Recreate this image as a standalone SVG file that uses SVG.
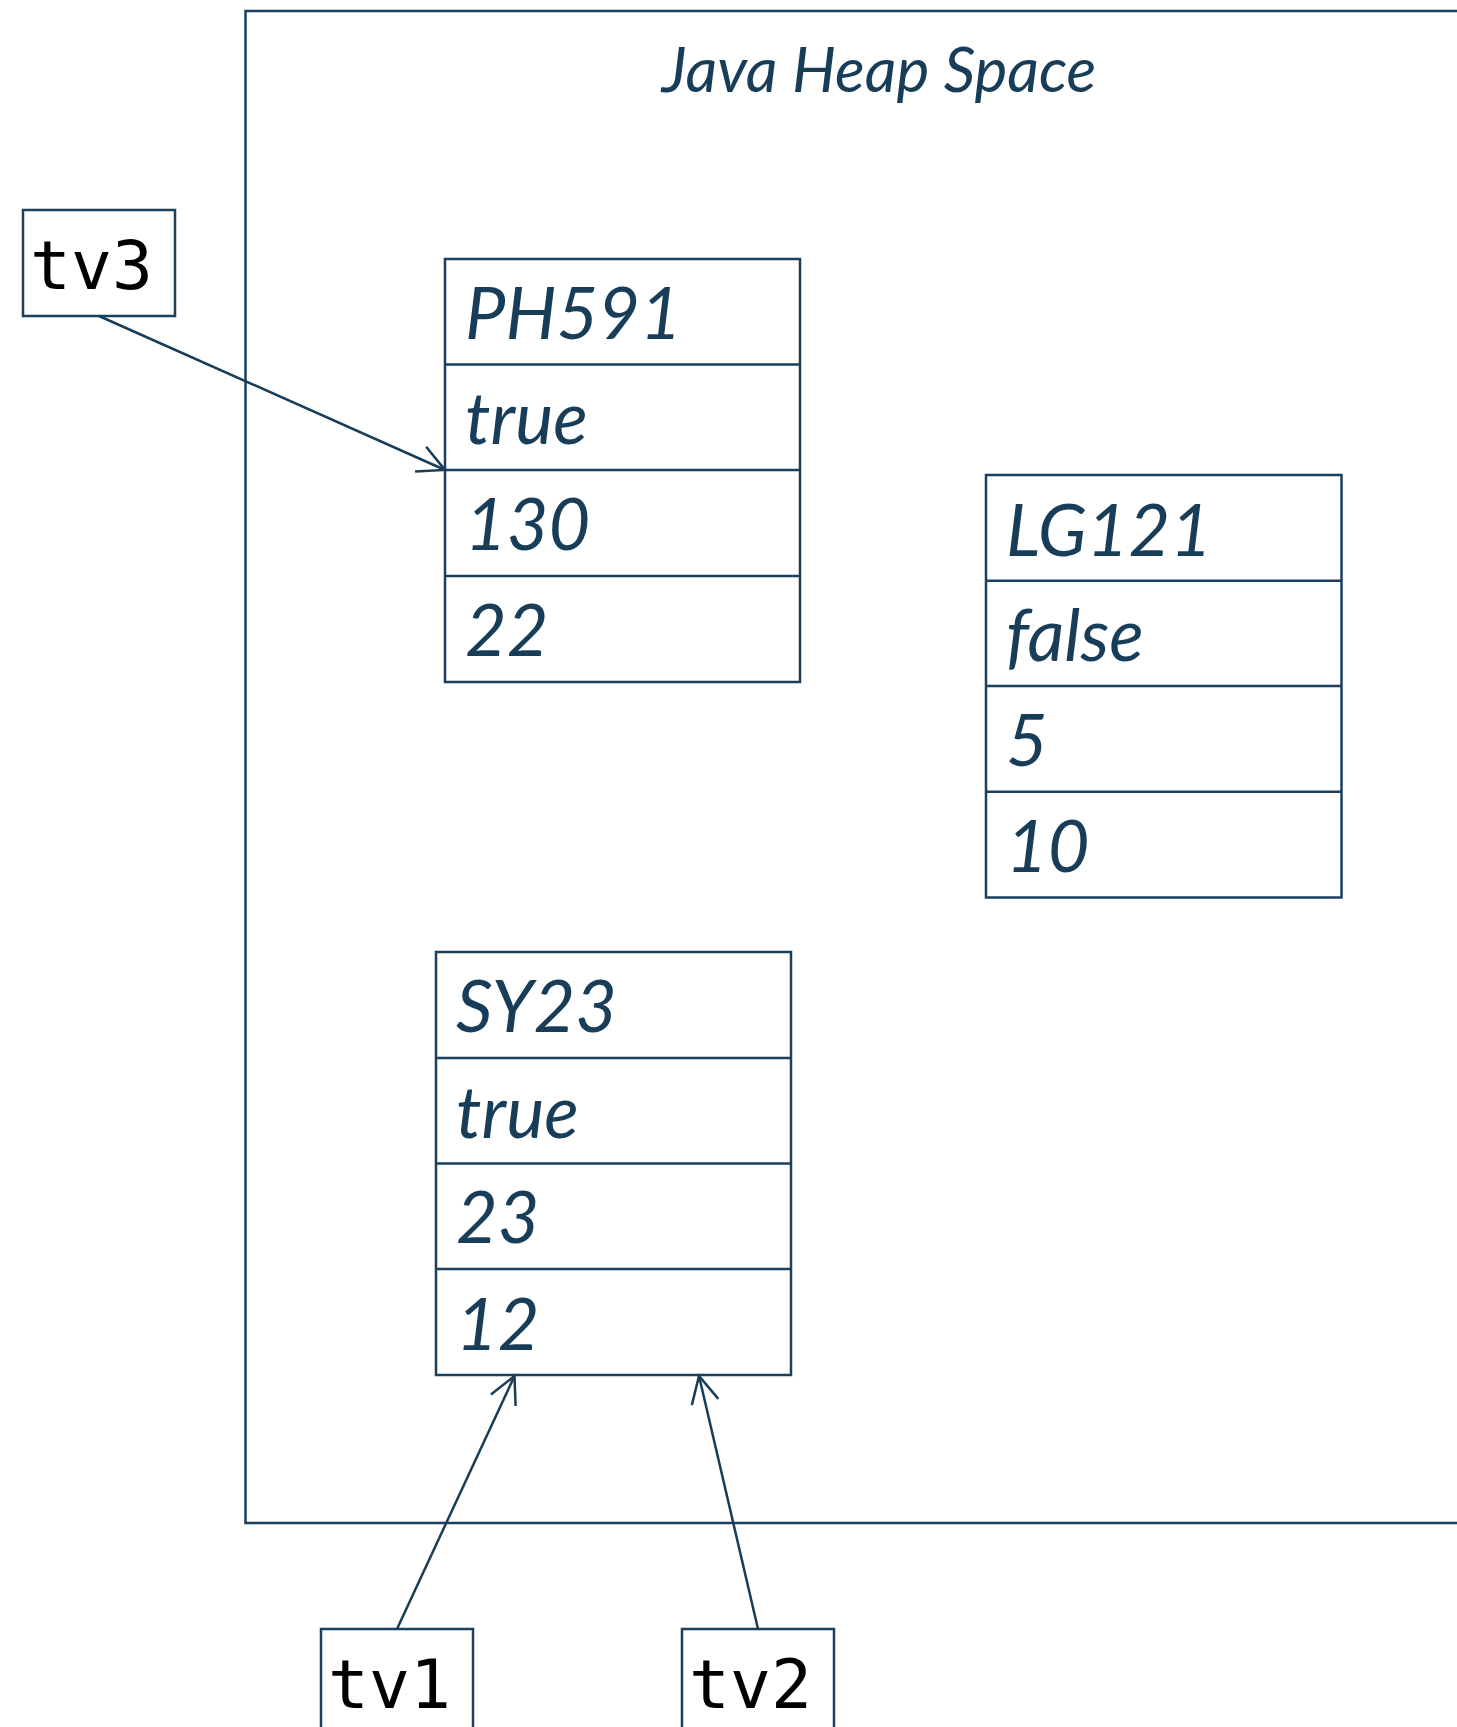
<svg xmlns="http://www.w3.org/2000/svg" width="1457" height="1727" viewBox="0 0 1457 1727">
<style>
.box{fill:#ffffff;stroke:#1b3f5c;stroke-width:2.5}
.sep{stroke:#1b3f5c;stroke-width:2.5}
.fld{font-family:Lato,"Noto Sans",sans-serif;font-style:italic;font-size:72px;fill:#173d58}
.ttl{font-family:Lato,"Noto Sans",sans-serif;font-style:italic;font-size:62px;fill:#173d58}
.var{font-family:"DejaVu Sans Mono","Liberation Mono",monospace;font-size:68px;fill:#000000}
.con{fill:none;stroke:#173d58;stroke-width:2.5}
</style>
<defs>
<marker id="open" markerUnits="userSpaceOnUse" markerWidth="40" markerHeight="40" refX="0" refY="0" viewBox="-35 -20 40 40" orient="auto" overflow="visible">
<path d="M-26.7,-13.6 L0,0 L-26.7,13.6" fill="none" stroke="#173d58" stroke-width="2.5"/>
</marker>
</defs>
<g id="heap">
<rect class="box" x="245.5" y="11" width="1268" height="1512" fill="none"/>
<text class="ttl" x="879" y="91.5" text-anchor="middle">Java Heap Space</text>
</g>
<g id="PH591">
<rect class="box" x="445" y="259" width="355" height="423"/>
<line class="sep" x1="445" y1="364.5" x2="800" y2="364.5"/>
<line class="sep" x1="445" y1="470" x2="800" y2="470"/>
<line class="sep" x1="445" y1="576" x2="800" y2="576"/>
<text class="fld" x="465" y="339">PH591</text>
<text class="fld" x="465" y="444">true</text>
<text class="fld" x="465" y="550">130</text>
<text class="fld" x="465" y="656">22</text>
</g>
<g id="LG121">
<rect class="box" x="986" y="475" width="355.5" height="422.5"/>
<line class="sep" x1="986" y1="580.7" x2="1341.5" y2="580.7"/>
<line class="sep" x1="986" y1="686" x2="1341.5" y2="686"/>
<line class="sep" x1="986" y1="791.7" x2="1341.5" y2="791.7"/>
<text class="fld" x="1006" y="556">LG121</text>
<text class="fld" x="1006" y="661">false</text>
<text class="fld" x="1006" y="766">5</text>
<text class="fld" x="1006" y="872">10</text>
</g>
<g id="SY23">
<rect class="box" x="436" y="952" width="355" height="423"/>
<line class="sep" x1="436" y1="1058" x2="791" y2="1058"/>
<line class="sep" x1="436" y1="1163.5" x2="791" y2="1163.5"/>
<line class="sep" x1="436" y1="1269" x2="791" y2="1269"/>
<text class="fld" x="456" y="1032">SY23</text>
<text class="fld" x="456" y="1138">true</text>
<text class="fld" x="456" y="1243">23</text>
<text class="fld" x="456" y="1350">12</text>
</g>
<g id="tv3">
<rect class="box" x="23" y="210" width="152" height="106"/>
<text class="var" x="30" y="289">tv3</text>
</g>
<g id="tv1">
<rect class="box" x="321" y="1629" width="152" height="106"/>
<text class="var" x="328" y="1708">tv1</text>
</g>
<g id="tv2">
<rect class="box" x="682" y="1629" width="152" height="106"/>
<text class="var" x="689" y="1708">tv2</text>
</g>
<g id="connectors">
<line class="con" x1="99" y1="316" x2="445" y2="470" marker-end="url(#open)"/>
<line class="con" x1="397" y1="1629" x2="514.5" y2="1376" marker-end="url(#open)"/>
<line class="con" x1="758" y1="1629" x2="699" y2="1376" marker-end="url(#open)"/>
</g>
</svg>
